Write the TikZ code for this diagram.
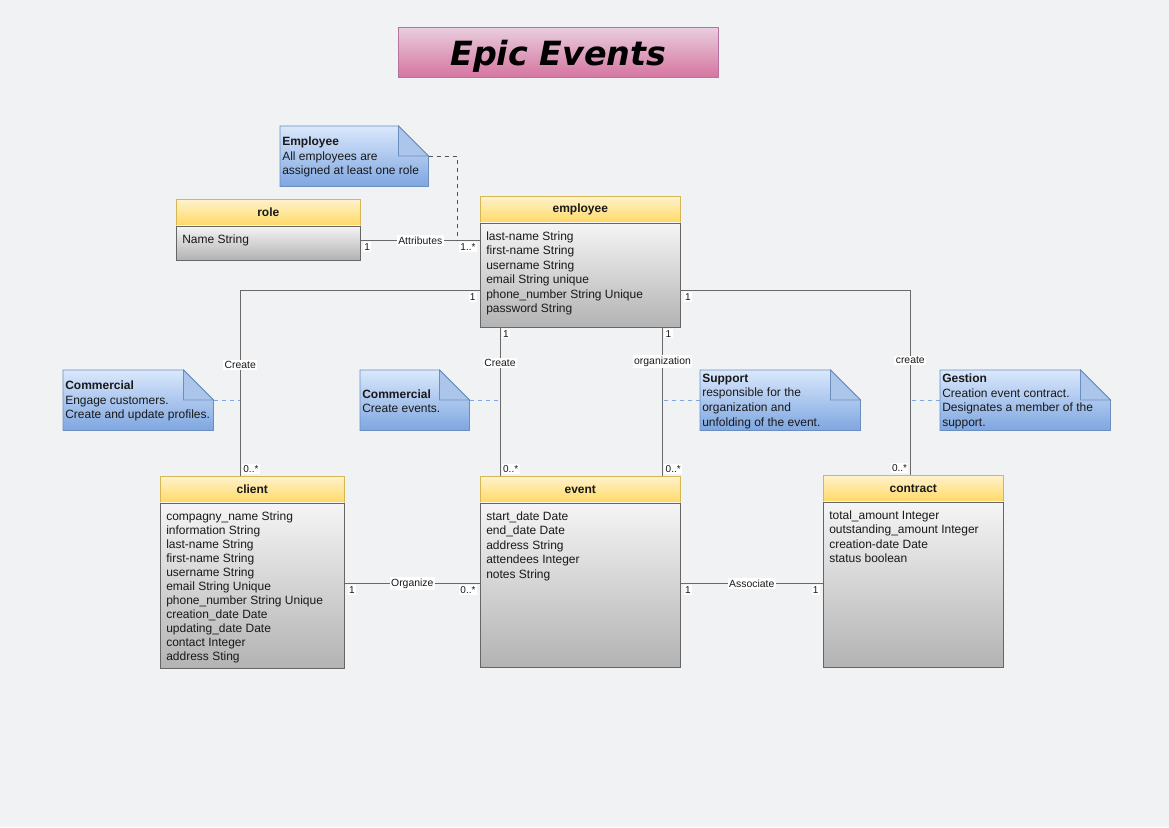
\documentclass[tikz,border=0pt]{standalone}
\usepackage{fontspec}
\setmainfont{Liberation Sans}
\newfontfamily\titlefont{DejaVu Sans}
\usetikzlibrary{positioning}

\definecolor{canvas}{RGB}{241,242,244}
\definecolor{txt}{RGB}{25,25,25}
\definecolor{hdrtop}{RGB}{255,242,204}
\definecolor{hdrbot}{RGB}{255,217,102}
\definecolor{hdrline}{RGB}{214,182,86}
\definecolor{bodytop}{RGB}{245,245,245}
\definecolor{bodybot}{RGB}{179,179,179}
\definecolor{bodyline}{RGB}{102,102,102}
\definecolor{notetop}{RGB}{218,232,252}
\definecolor{notebot}{RGB}{126,166,224}
\definecolor{noteline}{RGB}{108,142,191}
\definecolor{notefold}{RGB}{172,197,234}
\definecolor{pinktop}{RGB}{232,206,222}
\definecolor{pinkbot}{RGB}{213,117,160}
\definecolor{pinkline}{RGB}{181,115,157}
\definecolor{assocline}{RGB}{105,105,105}

% one unit = one pixel of the reference
\newcommand{\px}{0.75pt}

\tikzset{
  classhdr/.style={draw=hdrline, top color=hdrtop, bottom color=hdrbot, anchor=north west,
    inner sep=0pt, minimum width=#1, minimum height=26*\px, text=txt,
    font=\bfseries\fontsize{9}{11}\selectfont},
  classbody/.style={draw=bodyline, top color=bodytop, bottom color=bodybot, inner sep=0pt,
    minimum width=#1},
  attrs/.style={anchor=north west, align=left, inner sep=0pt, text=txt,
    font=\fontsize{9}{10.8}\selectfont},
  notebox/.style={anchor=north west, inner sep=0pt},
  notetext/.style={anchor=west, align=left, inner sep=0pt, text=txt,
    font=\fontsize{9}{10.9}\selectfont},
  assoc/.style={draw=assocline, line width=0.75pt},
  lbl/.style={fill=white, inner sep=1pt, text=txt, font=\fontsize{7.8}{9}\selectfont},
  mult/.style={fill=white, inner sep=1pt, text=txt, font=\fontsize{7.5}{9}\selectfont},
  notelink/.style={draw=notebot, dashed, line width=0.6pt},
}

% folded note: name, x, y, width, height, text
\newcommand{\umlnote}[6]{%
  \node[notebox, minimum width=#4*\px, minimum height=#5*\px] (#1) at (#2,#3) {};
  \draw[draw=noteline, top color=notetop, bottom color=notebot, line width=0.6pt]
    (#1.north west) -- ([xshift=-30*\px]#1.north east) -- ([yshift=-30*\px]#1.north east)
    -- (#1.south east) -- (#1.south west) -- cycle;
  \draw[draw=noteline, fill=notefold, line width=0.6pt]
    ([xshift=-30*\px]#1.north east) -- ([xshift=-30*\px,yshift=-30*\px]#1.north east)
    -- ([yshift=-30*\px]#1.north east) -- cycle;
  \node[notetext] at ([xshift=2*\px, yshift=-1*\px]#1.west) {#6};
}

\begin{document}
\begin{tikzpicture}[x=0.75pt, y=-0.75pt]
% canvas
\fill[canvas] (0,0) rectangle (1169,827);
\useasboundingbox (0,0) rectangle (1169,827);

% title
\node[draw=pinkline, top color=pinktop, bottom color=pinkbot, anchor=north west, inner sep=0pt,
  minimum width=320*\px, minimum height=50*\px,
  font=\titlefont\bfseries\itshape\fontsize{25}{30}\selectfont] (title) at (398,27)
  {\raisebox{-3pt}[\height][\depth]{Epic Events}};

% role and employee
\node[classhdr=184*\px] (roleh) at (176,199) {role};
\node[classbody=184*\px, minimum height=34*\px, below=0pt of roleh] (roleb) {};
\node[attrs] at ([xshift=6*\px, yshift=-9*\px]roleb.north west) {Name String};

\node[classhdr=200*\px] (emph) at (480,196) {employee};
\node[classbody=200*\px, minimum height=104*\px, below=0pt of emph] (empb) {};
\node[attrs] at ([xshift=6*\px, yshift=-9*\px]empb.north west)
  {last-name String\\first-name String\\username String\\email String unique\\phone\_number String Unique\\password String};

% client, event and contract
\node[classhdr=184*\px] (clienth) at (160,476) {client};
\node[classbody=184*\px, minimum height=165*\px, below=0pt of clienth] (clientb) {};
\node[attrs, font=\fontsize{9}{10.5}\selectfont] at ([xshift=6*\px, yshift=-9*\px]clientb.north west)
  {compagny\_name String\\information String\\last-name String\\first-name String\\username String\\email String Unique\\phone\_number String Unique\\creation\_date Date\\updating\_date Date\\contact Integer\\address Sting};

\node[classhdr=200*\px] (eventh) at (480,476) {event};
\node[classbody=200*\px, minimum height=164*\px, below=0pt of eventh] (eventb) {};
\node[attrs] at ([xshift=6*\px, yshift=-9*\px]eventb.north west)
  {start\_date Date\\end\_date Date\\address String\\attendees Integer\\notes String};

\node[classhdr=180*\px] (contracth) at (823,475) {contract};
\node[classbody=180*\px, minimum height=165*\px, below=0pt of contracth] (contractb) {};
\node[attrs] at ([xshift=6*\px, yshift=-9*\px]contractb.north west)
  {total\_amount Integer\\outstanding\_amount Integer\\creation-date Date\\status boolean};

% associations
\coordinate (attrA) at ([yshift=-15*\px]roleb.north east);
\draw[assoc] (attrA) -- node[lbl] {Attributes} coordinate[pos=0.81] (attrpt) (attrA -| empb.west)
  node[mult, at start, anchor=north west, xshift=1.5pt, yshift=-1pt] {1}
  node[mult, at end, anchor=north east, xshift=-2pt, yshift=-1pt] {1..*};

\draw[assoc] ([yshift=-68*\px]empb.north west) -| coordinate[pos=0.5] (ccorner)
  node[lbl, pos=0.7] {Create} ([xshift=-12*\px]clienth.north)
  node[mult, at start, anchor=north east, xshift=-2pt, yshift=-1pt] {1}
  node[mult, at end, anchor=south west, xshift=1pt, yshift=1pt] {0..*};

\draw[assoc] ([xshift=20*\px]empb.south west) coordinate (evtop) --
  node[lbl, pos=0.24] {Create} ([xshift=20*\px]eventh.north west)
  node[mult, at start, anchor=north west, xshift=1pt, yshift=-1pt] {1}
  node[mult, at end, anchor=south west, xshift=1pt, yshift=1pt] {0..*};

\draw[assoc] ([xshift=-18*\px]empb.south east) coordinate (orgtop) --
  node[lbl, pos=0.23] {organization} ([xshift=-18*\px]eventh.north east)
  node[mult, at start, anchor=north west, xshift=1pt, yshift=-1pt] {1}
  node[mult, at end, anchor=south west, xshift=1pt, yshift=1pt] {0..*};

\draw[assoc] ([yshift=-68*\px]empb.north east) -| coordinate[pos=0.5] (ctcorner)
  node[lbl, pos=0.69] {create} ([xshift=-3*\px]contracth.north)
  node[mult, at start, anchor=north west, xshift=2pt, yshift=-1pt] {1}
  node[mult, at end, anchor=south east, xshift=-1pt, yshift=1pt] {0..*};

\coordinate (orgA) at ([yshift=-81*\px]clientb.north east);
\draw[assoc] (orgA) -- node[lbl] {Organize} (orgA -| eventb.west)
  node[mult, at start, anchor=north west, xshift=2pt, yshift=-1pt] {1}
  node[mult, at end, anchor=north east, xshift=-2pt, yshift=-1pt] {0..*};

\coordinate (assA) at ([yshift=-81*\px]eventb.north east);
\draw[assoc] (assA) -- node[lbl] {Associate} (assA -| contractb.west)
  node[mult, at start, anchor=north west, xshift=2pt, yshift=-1pt] {1}
  node[mult, at end, anchor=north east, xshift=-2pt, yshift=-1pt] {1};

% notes
\umlnote{empnote}{280}{126}{148}{60}{\textbf{Employee}\\All employees are\\assigned at least one role}
\draw[draw=assocline!80!black, dashed, line width=0.75pt]
  ([yshift=-31*\px]empnote.north east) -| (attrpt);

\umlnote{comnote}{63}{370}{150}{60}{\textbf{Commercial}\\Engage customers.\\Create and update profiles.}
\draw[notelink] (comnote.east) -- (comnote.east -| ccorner);

\umlnote{evnote}{360}{370}{109}{60}{\textbf{Commercial}\\Create events.}
\draw[notelink] (evnote.east) -- (evnote.east -| evtop);

\umlnote{supnote}{700}{370}{160}{60}{\textbf{Support}\\responsible for the\\organization and\\unfolding of the event.}
\draw[notelink] (supnote.west) -- (supnote.west -| orgtop);

\umlnote{gesnote}{940}{370}{170}{60}{\textbf{Gestion}\\Creation event contract.\\Designates a member of the\\support.}
\draw[notelink] (gesnote.west) -- (gesnote.west -| ctcorner);

\end{tikzpicture}
\end{document}
